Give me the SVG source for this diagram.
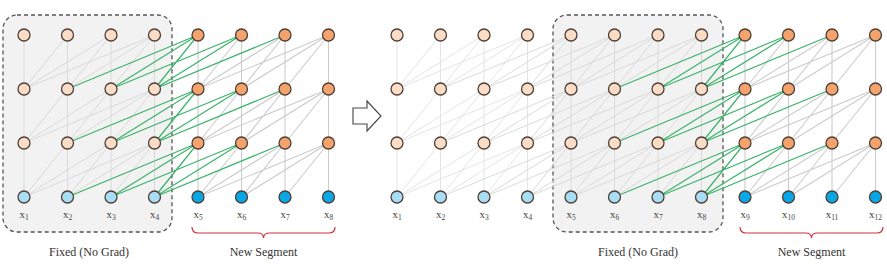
<svg xmlns="http://www.w3.org/2000/svg" width="887" height="276" viewBox="0 0 887 276">
<style>
.box{fill:#f2f2f2;stroke:#555;stroke-width:1.3;stroke-dasharray:4 3}
.eo{fill:none;stroke:#e4e4e4;stroke-width:1}
.ef{fill:none;stroke:#dadada;stroke-width:1}
.en{fill:none;stroke:#cccccc;stroke-width:1.1}
.eg{fill:none;stroke:#3cb36a;stroke-width:1.2}
.n use{stroke:#4d3f36;stroke-width:1.3}
.fh{fill:#fbdcc6}
.nh{fill:#f5a36c}
.fi{fill:#a8ddf4}
.ni{fill:#0aa7e6}
.lab{font-family:"Liberation Serif",serif;font-size:11px;fill:#444;text-anchor:middle}
.sub{font-size:7.5px}
.cap{font-family:"Liberation Serif",serif;font-size:12px;fill:#333;text-anchor:middle}
.brace{fill:none;stroke:#d0323f;stroke-width:1.2}
.arrow{fill:#fff;stroke:#444;stroke-width:1.1}
</style>
<defs>
<circle id="c" r="6"/>
</defs>

<rect class="box" x="3" y="15" width="169" height="217" rx="14"/>
<rect class="box" x="553" y="15" width="170" height="217" rx="14"/>

<g id="connectors">
<path class="ef" d="M24,35V197M67.5,35V197M111,35V197M154.5,35V197
M67.5,35L24,89M111,35L24,89M111,35L67.5,89M154.5,35L24,89M154.5,35L67.5,89M154.5,35L111,89
M67.5,89L24,143M111,89L24,143M111,89L67.5,143M154.5,89L24,143M154.5,89L67.5,143M154.5,89L111,143
M67.5,143L24,197M111,143L24,197M111,143L67.5,197M154.5,143L24,197M154.5,143L67.5,197M154.5,143L111,197"/>
<path class="en" d="M198,35V197M241.5,35V197M285,35V197M328.5,35V197
M241.5,35L198,89M285,35L198,89M285,35L241.5,89M328.5,35L198,89M328.5,35L241.5,89M328.5,35L285,89
M241.5,89L198,143M285,89L198,143M285,89L241.5,143M328.5,89L198,143M328.5,89L241.5,143M328.5,89L285,143
M241.5,143L198,197M285,143L198,197M285,143L241.5,197M328.5,143L198,197M328.5,143L241.5,197M328.5,143L285,197"/>
<path class="eg" d="M198,35L67.5,89M198,35L111,89M198,35L154.5,89M241.5,35L111,89M241.5,35L154.5,89M285,35L154.5,89
M198,89L67.5,143M198,89L111,143M198,89L154.5,143M241.5,89L111,143M241.5,89L154.5,143M285,89L154.5,143
M198,143L67.5,197M198,143L111,197M198,143L154.5,197M241.5,143L111,197M241.5,143L154.5,197M285,143L154.5,197"/>

<path class="eo" d="M397,35V197M440.5,35V197M484,35V197M527.5,35V197
M440.5,35L397,89M484,35L397,89M484,35L440.5,89M527.5,35L397,89M527.5,35L440.5,89M527.5,35L484,89
M440.5,89L397,143M484,89L397,143M484,89L440.5,143M527.5,89L397,143M527.5,89L440.5,143M527.5,89L484,143
M440.5,143L397,197M484,143L397,197M484,143L440.5,197M527.5,143L397,197M527.5,143L440.5,197M527.5,143L484,197"/>
<path class="ef" d="M571,35V197M614.5,35V197M658,35V197M701.5,35V197
M571,35L440.5,89M571,35L484,89M571,35L527.5,89M614.5,35L484,89M614.5,35L527.5,89M614.5,35L571,89M658,35L527.5,89M658,35L571,89M658,35L614.5,89M701.5,35L571,89M701.5,35L614.5,89M701.5,35L658,89
M571,89L440.5,143M571,89L484,143M571,89L527.5,143M614.5,89L484,143M614.5,89L527.5,143M614.5,89L571,143M658,89L527.5,143M658,89L571,143M658,89L614.5,143M701.5,89L571,143M701.5,89L614.5,143M701.5,89L658,143
M571,143L440.5,197M571,143L484,197M571,143L527.5,197M614.5,143L484,197M614.5,143L527.5,197M614.5,143L571,197M658,143L527.5,197M658,143L571,197M658,143L614.5,197M701.5,143L571,197M701.5,143L614.5,197M701.5,143L658,197"/>
<path class="en" d="M745,35V197M788.5,35V197M832,35V197M875.5,35V197
M788.5,35L745,89M832,35L745,89M832,35L788.5,89M875.5,35L745,89M875.5,35L788.5,89M875.5,35L832,89
M788.5,89L745,143M832,89L745,143M832,89L788.5,143M875.5,89L745,143M875.5,89L788.5,143M875.5,89L832,143
M788.5,143L745,197M832,143L745,197M832,143L788.5,197M875.5,143L745,197M875.5,143L788.5,197M875.5,143L832,197"/>
<path class="eg" d="M745,35L614.5,89M745,35L658,89M745,35L701.5,89M788.5,35L658,89M788.5,35L701.5,89M832,35L701.5,89
M745,89L614.5,143M745,89L658,143M745,89L701.5,143M788.5,89L658,143M788.5,89L701.5,143M832,89L701.5,143
M745,143L614.5,197M745,143L658,197M745,143L701.5,197M788.5,143L658,197M788.5,143L701.5,197M832,143L701.5,197"/>
</g>

<g id="L-h3-1" class="n"><use href="#c" x="24" y="35" class="fh"/></g>
<g id="L-h3-2" class="n"><use href="#c" x="67.5" y="35" class="fh"/></g>
<g id="L-h3-3" class="n"><use href="#c" x="111" y="35" class="fh"/></g>
<g id="L-h3-4" class="n"><use href="#c" x="154.5" y="35" class="fh"/></g>
<g id="L-h3-5" class="n"><use href="#c" x="198" y="35" class="nh"/></g>
<g id="L-h3-6" class="n"><use href="#c" x="241.5" y="35" class="nh"/></g>
<g id="L-h3-7" class="n"><use href="#c" x="285" y="35" class="nh"/></g>
<g id="L-h3-8" class="n"><use href="#c" x="328.5" y="35" class="nh"/></g>
<g id="L-h2-1" class="n"><use href="#c" x="24" y="89" class="fh"/></g>
<g id="L-h2-2" class="n"><use href="#c" x="67.5" y="89" class="fh"/></g>
<g id="L-h2-3" class="n"><use href="#c" x="111" y="89" class="fh"/></g>
<g id="L-h2-4" class="n"><use href="#c" x="154.5" y="89" class="fh"/></g>
<g id="L-h2-5" class="n"><use href="#c" x="198" y="89" class="nh"/></g>
<g id="L-h2-6" class="n"><use href="#c" x="241.5" y="89" class="nh"/></g>
<g id="L-h2-7" class="n"><use href="#c" x="285" y="89" class="nh"/></g>
<g id="L-h2-8" class="n"><use href="#c" x="328.5" y="89" class="nh"/></g>
<g id="L-h1-1" class="n"><use href="#c" x="24" y="143" class="fh"/></g>
<g id="L-h1-2" class="n"><use href="#c" x="67.5" y="143" class="fh"/></g>
<g id="L-h1-3" class="n"><use href="#c" x="111" y="143" class="fh"/></g>
<g id="L-h1-4" class="n"><use href="#c" x="154.5" y="143" class="fh"/></g>
<g id="L-h1-5" class="n"><use href="#c" x="198" y="143" class="nh"/></g>
<g id="L-h1-6" class="n"><use href="#c" x="241.5" y="143" class="nh"/></g>
<g id="L-h1-7" class="n"><use href="#c" x="285" y="143" class="nh"/></g>
<g id="L-h1-8" class="n"><use href="#c" x="328.5" y="143" class="nh"/></g>
<g id="L-x1" class="n"><use href="#c" x="24" y="197" class="fi"/><text class="lab" x="24" y="218">x<tspan class="sub" dy="2">1</tspan></text></g>
<g id="L-x2" class="n"><use href="#c" x="67.5" y="197" class="fi"/><text class="lab" x="67.5" y="218">x<tspan class="sub" dy="2">2</tspan></text></g>
<g id="L-x3" class="n"><use href="#c" x="111" y="197" class="fi"/><text class="lab" x="111" y="218">x<tspan class="sub" dy="2">3</tspan></text></g>
<g id="L-x4" class="n"><use href="#c" x="154.5" y="197" class="fi"/><text class="lab" x="154.5" y="218">x<tspan class="sub" dy="2">4</tspan></text></g>
<g id="L-x5" class="n"><use href="#c" x="198" y="197" class="ni"/><text class="lab" x="198" y="218">x<tspan class="sub" dy="2">5</tspan></text></g>
<g id="L-x6" class="n"><use href="#c" x="241.5" y="197" class="ni"/><text class="lab" x="241.5" y="218">x<tspan class="sub" dy="2">6</tspan></text></g>
<g id="L-x7" class="n"><use href="#c" x="285" y="197" class="ni"/><text class="lab" x="285" y="218">x<tspan class="sub" dy="2">7</tspan></text></g>
<g id="L-x8" class="n"><use href="#c" x="328.5" y="197" class="ni"/><text class="lab" x="328.5" y="218">x<tspan class="sub" dy="2">8</tspan></text></g>

<g id="R-h3-1" class="n"><use href="#c" x="397" y="35" class="fh"/></g>
<g id="R-h3-2" class="n"><use href="#c" x="440.5" y="35" class="fh"/></g>
<g id="R-h3-3" class="n"><use href="#c" x="484" y="35" class="fh"/></g>
<g id="R-h3-4" class="n"><use href="#c" x="527.5" y="35" class="fh"/></g>
<g id="R-h3-5" class="n"><use href="#c" x="571" y="35" class="fh"/></g>
<g id="R-h3-6" class="n"><use href="#c" x="614.5" y="35" class="fh"/></g>
<g id="R-h3-7" class="n"><use href="#c" x="658" y="35" class="fh"/></g>
<g id="R-h3-8" class="n"><use href="#c" x="701.5" y="35" class="fh"/></g>
<g id="R-h3-9" class="n"><use href="#c" x="745" y="35" class="nh"/></g>
<g id="R-h3-10" class="n"><use href="#c" x="788.5" y="35" class="nh"/></g>
<g id="R-h3-11" class="n"><use href="#c" x="832" y="35" class="nh"/></g>
<g id="R-h3-12" class="n"><use href="#c" x="875.5" y="35" class="nh"/></g>
<g id="R-h2-1" class="n"><use href="#c" x="397" y="89" class="fh"/></g>
<g id="R-h2-2" class="n"><use href="#c" x="440.5" y="89" class="fh"/></g>
<g id="R-h2-3" class="n"><use href="#c" x="484" y="89" class="fh"/></g>
<g id="R-h2-4" class="n"><use href="#c" x="527.5" y="89" class="fh"/></g>
<g id="R-h2-5" class="n"><use href="#c" x="571" y="89" class="fh"/></g>
<g id="R-h2-6" class="n"><use href="#c" x="614.5" y="89" class="fh"/></g>
<g id="R-h2-7" class="n"><use href="#c" x="658" y="89" class="fh"/></g>
<g id="R-h2-8" class="n"><use href="#c" x="701.5" y="89" class="fh"/></g>
<g id="R-h2-9" class="n"><use href="#c" x="745" y="89" class="nh"/></g>
<g id="R-h2-10" class="n"><use href="#c" x="788.5" y="89" class="nh"/></g>
<g id="R-h2-11" class="n"><use href="#c" x="832" y="89" class="nh"/></g>
<g id="R-h2-12" class="n"><use href="#c" x="875.5" y="89" class="nh"/></g>
<g id="R-h1-1" class="n"><use href="#c" x="397" y="143" class="fh"/></g>
<g id="R-h1-2" class="n"><use href="#c" x="440.5" y="143" class="fh"/></g>
<g id="R-h1-3" class="n"><use href="#c" x="484" y="143" class="fh"/></g>
<g id="R-h1-4" class="n"><use href="#c" x="527.5" y="143" class="fh"/></g>
<g id="R-h1-5" class="n"><use href="#c" x="571" y="143" class="fh"/></g>
<g id="R-h1-6" class="n"><use href="#c" x="614.5" y="143" class="fh"/></g>
<g id="R-h1-7" class="n"><use href="#c" x="658" y="143" class="fh"/></g>
<g id="R-h1-8" class="n"><use href="#c" x="701.5" y="143" class="fh"/></g>
<g id="R-h1-9" class="n"><use href="#c" x="745" y="143" class="nh"/></g>
<g id="R-h1-10" class="n"><use href="#c" x="788.5" y="143" class="nh"/></g>
<g id="R-h1-11" class="n"><use href="#c" x="832" y="143" class="nh"/></g>
<g id="R-h1-12" class="n"><use href="#c" x="875.5" y="143" class="nh"/></g>
<g id="R-x1" class="n"><use href="#c" x="397" y="197" class="fi"/><text class="lab" x="397" y="218">x<tspan class="sub" dy="2">1</tspan></text></g>
<g id="R-x2" class="n"><use href="#c" x="440.5" y="197" class="fi"/><text class="lab" x="440.5" y="218">x<tspan class="sub" dy="2">2</tspan></text></g>
<g id="R-x3" class="n"><use href="#c" x="484" y="197" class="fi"/><text class="lab" x="484" y="218">x<tspan class="sub" dy="2">3</tspan></text></g>
<g id="R-x4" class="n"><use href="#c" x="527.5" y="197" class="fi"/><text class="lab" x="527.5" y="218">x<tspan class="sub" dy="2">4</tspan></text></g>
<g id="R-x5" class="n"><use href="#c" x="571" y="197" class="fi"/><text class="lab" x="571" y="218">x<tspan class="sub" dy="2">5</tspan></text></g>
<g id="R-x6" class="n"><use href="#c" x="614.5" y="197" class="fi"/><text class="lab" x="614.5" y="218">x<tspan class="sub" dy="2">6</tspan></text></g>
<g id="R-x7" class="n"><use href="#c" x="658" y="197" class="fi"/><text class="lab" x="658" y="218">x<tspan class="sub" dy="2">7</tspan></text></g>
<g id="R-x8" class="n"><use href="#c" x="701.5" y="197" class="fi"/><text class="lab" x="701.5" y="218">x<tspan class="sub" dy="2">8</tspan></text></g>
<g id="R-x9" class="n"><use href="#c" x="745" y="197" class="ni"/><text class="lab" x="745" y="218">x<tspan class="sub" dy="2">9</tspan></text></g>
<g id="R-x10" class="n"><use href="#c" x="788.5" y="197" class="ni"/><text class="lab" x="788.5" y="218">x<tspan class="sub" dy="2">10</tspan></text></g>
<g id="R-x11" class="n"><use href="#c" x="832" y="197" class="ni"/><text class="lab" x="832" y="218">x<tspan class="sub" dy="2">11</tspan></text></g>
<g id="R-x12" class="n"><use href="#c" x="875.5" y="197" class="ni"/><text class="lab" x="875.5" y="218">x<tspan class="sub" dy="2">12</tspan></text></g>

<polygon class="arrow" points="353,108 367,108 367,101 381,116 367,131 367,124 353,124"/>

<path class="brace" d="M192,227Q192,233 198,233L257.5,233Q263.5,233 263.5,238Q263.5,233 269.5,233L329,233Q335,233 335,227"/>
<path class="brace" d="M740,227Q740,233 746,233L805.5,233Q811.5,233 811.5,238Q811.5,233 817.5,233L877,233Q883,233 883,227"/>
<text class="cap" x="89" y="256">Fixed (No Grad)</text>
<text class="cap" x="263.5" y="256">New Segment</text>
<text class="cap" x="638" y="256">Fixed (No Grad)</text>
<text class="cap" x="811.5" y="256">New Segment</text>
</svg>
